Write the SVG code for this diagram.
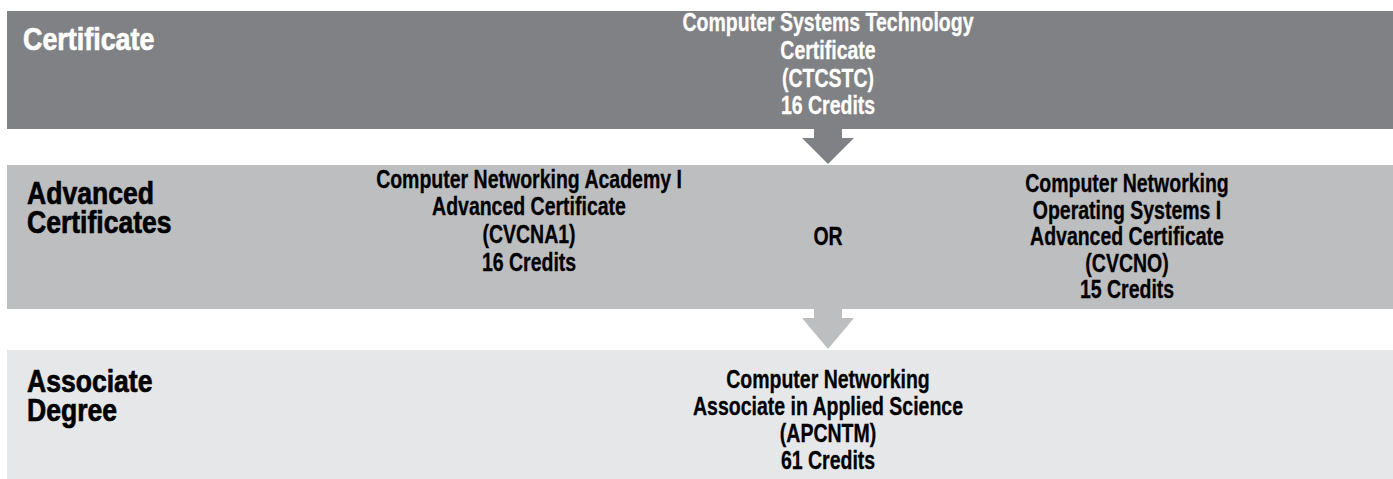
<svg xmlns="http://www.w3.org/2000/svg" width="1393" height="479" viewBox="0 0 1393 479">
<style>
text{font-family:"Liberation Sans",Arial,sans-serif;font-weight:bold;}
.h{font-size:32px;stroke-width:0.7px;}
.t{font-size:25px;text-anchor:middle;stroke-width:0.3px;}
.w{fill:#ffffff;stroke:#ffffff;}
.k{fill:#000000;stroke:#000000;}
.c1{fill:#808184;}
.c2{fill:#bcbec0;}
.c3{fill:#e6e7e8;}
</style>
<rect x="0" y="0" width="1393" height="479" fill="#ffffff"/>
<g id="band-certificate">
<rect class="c1" x="7" y="11" width="1386" height="118"/>
<g transform="translate(23 0) scale(0.84 1)"><text class="h w" x="0" y="50">Certificate</text></g>
</g>
<g id="band-advanced">
<rect class="c2" x="7" y="165" width="1386" height="144"/>
<g transform="translate(27 0) scale(0.83 1)">
<text class="h k" x="0" y="204">Advanced</text>
<text class="h k" x="0" y="233">Certificates</text>
</g>
</g>
<g id="band-associate">
<rect class="c3" x="7" y="350" width="1386" height="129"/>
<g transform="translate(27 0) scale(0.83 1)">
<text class="h k" x="0" y="392">Associate</text>
<text class="h k" x="0" y="421">Degree</text>
</g>
</g>
<g id="node-ctcstc" transform="translate(828 0) scale(0.78 1)">
<text class="t w" x="0" y="31">Computer Systems Technology</text>
<text class="t w" x="0" y="59">Certificate</text>
<text class="t w" x="0" y="87">(CTCSTC)</text>
<text class="t w" x="0" y="114">16 Credits</text>
</g>
<g id="node-cvcna1" transform="translate(529 0) scale(0.78 1)">
<text class="t k" x="0" y="188">Computer Networking Academy I</text>
<text class="t k" x="0" y="215">Advanced Certificate</text>
<text class="t k" x="0" y="243">(CVCNA1)</text>
<text class="t k" x="0" y="271">16 Credits</text>
</g>
<g id="node-or" transform="translate(828 0) scale(0.78 1)">
<text class="t k" x="0" y="245">OR</text>
</g>
<g id="node-cvcno" transform="translate(1127 0) scale(0.78 1)">
<text class="t k" x="0" y="192">Computer Networking</text>
<text class="t k" x="0" y="219">Operating Systems I</text>
<text class="t k" x="0" y="245">Advanced Certificate</text>
<text class="t k" x="0" y="272">(CVCNO)</text>
<text class="t k" x="0" y="298">15 Credits</text>
</g>
<g id="node-apcntm" transform="translate(828 0) scale(0.78 1)">
<text class="t k" x="0" y="388">Computer Networking</text>
<text class="t k" x="0" y="415">Associate in Applied Science</text>
<text class="t k" x="0" y="442">(APCNTM)</text>
<text class="t k" x="0" y="469">61 Credits</text>
</g>
<g id="connectors">
<polygon class="c1" points="814,129 842,129 842,138 854,138 828,164 802,138 814,138"/>
<polygon class="c2" points="814,309 842,309 842,318 854,318 828,349 802,318 814,318"/>
</g>
</svg>
